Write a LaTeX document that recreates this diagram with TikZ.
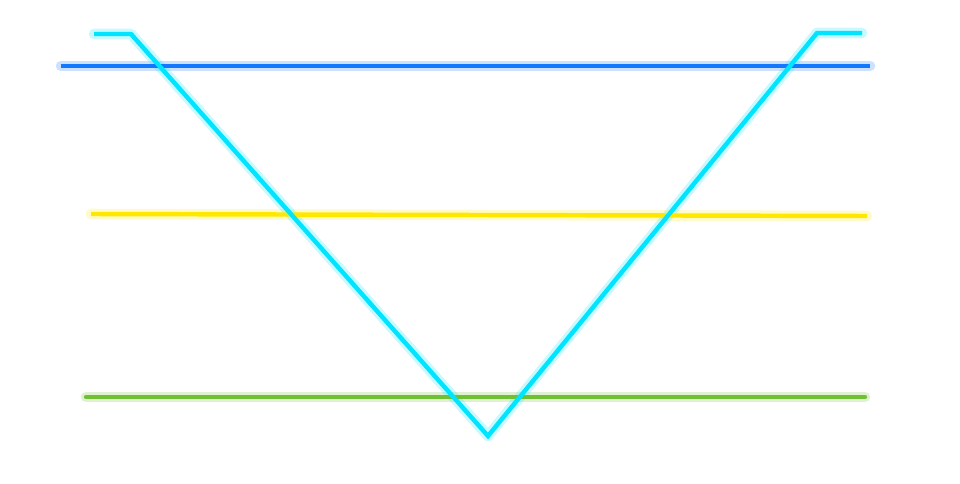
\documentclass[tikz,border=0pt]{standalone}
\usepackage{tikz}

\definecolor{levelblue}{RGB}{20,120,255}
\definecolor{levelyellow}{RGB}{255,232,0}
\definecolor{levelgreen}{RGB}{112,192,52}
\definecolor{vcyan}{RGB}{0,228,255}

\tikzset{
    glow/.style={line width=9pt, opacity=0.22, line cap=round, line join=round},
    level/.style={line width=3.8pt, line cap=round},
    vline/.style={line width=3.8pt, color=vcyan, line join=miter}
}

\begin{document}
\begin{tikzpicture}[x=0.03cm, y=-0.03cm]
        \useasboundingbox (0,0) rectangle (960,484);

        % Horizontal levels
            \coordinate (b1) at (61, 66);
            \coordinate (b2) at (870, 66);
            \coordinate (y1) at (91, 214);
            \coordinate (y2) at (867, 216);
            \coordinate (g1) at (86, 397);
            \coordinate (g2) at (865, 397);

            % V path
            \coordinate (v1) at (94, 34);
            \coordinate (v2) at (131, 34);
            \coordinate (v3) at (488, 436);
            \coordinate (v4) at (817, 33);
            \coordinate (v5) at (862, 33);

            % Glow underneath
            \draw[glow, levelblue] (b1) -- (b2);
            \draw[glow, levelyellow] (y1) -- (y2);
            \draw[glow, levelgreen] (g1) -- (g2);
            \draw[glow, vcyan] (v1) -- (v2) -- (v3) -- (v4) -- (v5);

            % Levels
            \draw[level, levelblue, line cap=butt] (b1) -- (b2);
            \draw[level, levelyellow, line cap=butt] (y1) -- (y2);
            \draw[level, levelgreen] (g1) -- (g2);

            % V shape
            \draw[vline] (v1) -- (v2) -- (v3) -- (v4) -- (v5);
    \end{tikzpicture}
\end{document}
